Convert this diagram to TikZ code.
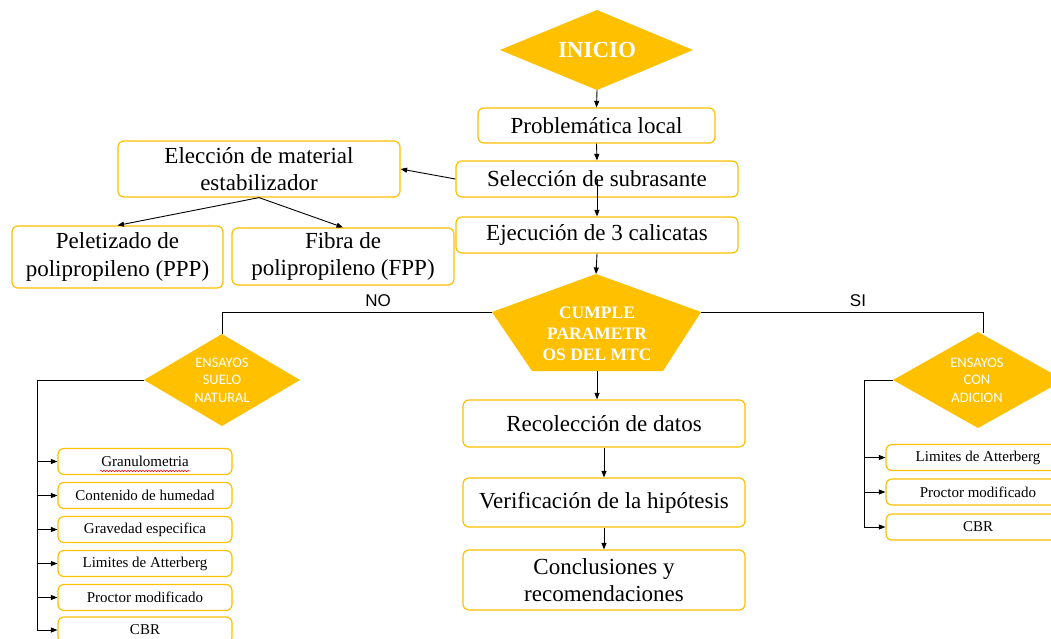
\documentclass[tikz,border=0pt]{standalone}
\usepackage{fontspec}
\setmainfont{Liberation Serif}
\newfontfamily\sansA{Liberation Sans}
\newfontfamily\calib{Carlito}
\usetikzlibrary{arrows.meta,decorations.pathmorphing}
\definecolor{gold}{HTML}{FFC000}
\begin{document}
\begin{tikzpicture}[x=1pt,y=-1pt,
  box/.style={draw=gold,line width=1.2pt,rounded corners=6pt,fill=white,inner sep=0pt,align=center},
  big/.style={box,font=\fontsize{23}{27.5}\selectfont},
  small/.style={box,minimum width=174pt,minimum height=26pt,font=\fontsize{15}{18}\selectfont},
  smallr/.style={box,minimum width=184pt,minimum height=26pt,font=\fontsize{15}{18}\selectfont},
  dtext/.style={text=white,align=center,inner sep=0pt},
  dsans/.style={dtext,font=\calib\fontsize{14.5}{17.5}\selectfont},
  arr/.style={-{Triangle[length=6.5pt,width=5pt]},line width=0.9pt},
  ln/.style={line width=0.9pt}]

\clip (0,0) rectangle (1051,638);
\fill[white] (0,0) rectangle (1051,638);

% INICIO
\fill[gold] (597,10) -- (693,50) -- (597,90) -- (500,50) -- cycle;
\node[dtext,font=\bfseries\fontsize{23}{27}\selectfont] (inicio) at (597,50) {INICIO};
\coordinate (inicio-s) at (597,90);

% main boxes
\node[big,minimum width=237pt,minimum height=35pt] (prob) at (596.5,125.5) {Problemática local};
\node[big,minimum width=282pt,minimum height=36pt] (sel) at (597,179) {Selección de subrasante};
\node[big,minimum width=282pt,minimum height=36pt] (eje) at (597,235) {Ejecución de 3 calicatas};
\node[big,minimum width=282pt,minimum height=56pt] (elec) at (259,169) {Elección de material\\estabilizador};
\node[big,minimum width=211pt,minimum height=62pt] (pel) at (117.5,257) {Peletizado de\\polipropileno (PPP)};
\node[big,minimum width=222pt,minimum height=57pt] (fib) at (343,256.5) {Fibra de\\polipropileno (FPP)};

\draw[arr] (inicio-s) -- (prob.north);
\draw[arr] (prob.south) -- (sel.north);
\draw[arr] (sel.center) -- (eje.north);
\draw[arr] (sel.west) -- (elec.east);
\draw[arr] (elec.south) -- (pel.north);
\draw[arr] (elec.south) -- (fib.north);

% decision pentagon
\fill[gold] (596,274) -- (701,312) -- (663,371) -- (532,371) -- (492,312) -- cycle;
\coordinate (cump-n) at (596,274);
\coordinate (cump-w) at (492,312);
\coordinate (cump-e) at (701,312);
\coordinate (cump-s) at (597,371);
\node[dtext,font=\bfseries\fontsize{17.5}{21}\selectfont] (cump) at (597,334) {CUMPLE\\PARAMETR\\OS DEL MTC};
\draw[arr] (eje.south) -- (cump-n);

% branches
\coordinate (nat-n) at (222,334);
\coordinate (adi-n) at (983,333);
\draw[ln] (cump-w) -- (222,312) -- (nat-n);
\draw[ln] (cump-e) -- (983,312) -- (adi-n);
\node[font=\sansA\fontsize{17}{20}\selectfont] (no) at (378,301) {NO};
\node[font=\sansA\fontsize{17}{20}\selectfont] (si) at (858,301) {SI};

% left diamond
\fill[gold] (222,334) -- (300,380) -- (222,426) -- (144,380) -- cycle;
\coordinate (nat-w) at (144,380);
\node[dsans] (nat) at (222,380) {ENSAYOS\\SUELO\\NATURAL};

% right diamond
\fill[gold] (978,332) -- (1064,380) -- (978,428) -- (893,380) -- cycle;
\coordinate (adi-w) at (893,380);
\node[dsans] (adi) at (977,380) {ENSAYOS\\CON\\ADICION};

% center bottom
\node[big,minimum width=282pt,minimum height=47pt] (rec) at (604,423.5) {Recolección de datos};
\node[big,minimum width=282pt,minimum height=49pt] (ver) at (604,502.5) {Verificación de la hipótesis};
\node[big,minimum width=282pt,minimum height=60pt] (con) at (604,580) {Conclusiones y\\recomendaciones};
\draw[arr] (cump-s) -- (cump-s |- rec.north);
\draw[arr] (rec.south) -- (ver.north);
\draw[arr] (ver.south) -- (con.north);

% left list
\node[small] (l1) at (145,461.5) {Granulometria};
\node[small] (l2) at (145,495.5) {Contenido de humedad};
\node[small] (l3) at (145,529.5) {Gravedad especifica};
\node[small] (l4) at (145,563.5) {Limites de Atterberg};
\node[small] (l5) at (145,597.5) {Proctor modificado};
\node[small] (l6) at (145,630) {CBR};
\draw[red,line width=0.5pt,decorate,decoration={snake,amplitude=0.8pt,segment length=3pt}]
  ([xshift=-45pt,yshift=-9.5pt]l1.center) -- ([xshift=45pt,yshift=-9.5pt]l1.center);
\coordinate (trL) at (37,380);
\draw[ln] (nat-w) -- (trL) -- (trL |- l6.west);
\foreach \b in {l1,l2,l3,l4,l5,l6} \draw[arr] (trL |- \b.west) -- (\b.west);

% right list
\node[smallr] (r1) at (978,457.5) {Limites de Atterberg};
\node[smallr] (r2) at (978,492) {Proctor modificado};
\node[smallr] (r3) at (978,527) {CBR};
\coordinate (trR) at (864,380);
\draw[ln] (adi-w) -- (trR) -- (trR |- r3.west);
\foreach \b in {r1,r2,r3} \draw[arr] (trR |- \b.west) -- (\b.west);
\end{tikzpicture}
\end{document}
